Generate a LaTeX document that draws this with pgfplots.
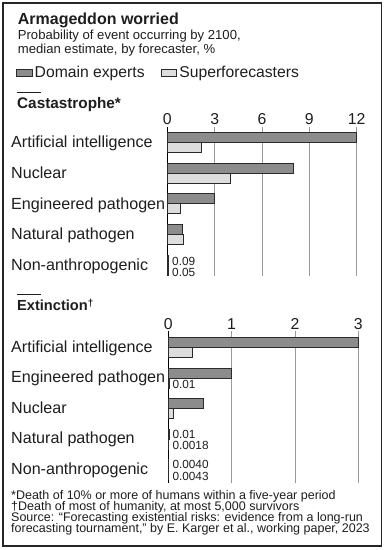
\documentclass[border=0pt]{standalone}
\usepackage{fontspec}
\setmainfont{Liberation Sans}
\usepackage{pgfplots}
\pgfplotsset{compat=1.18}
\definecolor{dark}{HTML}{8C8C8C}
\definecolor{light}{HTML}{DDDDDD}
\definecolor{edge}{HTML}{2B2B2B}
\definecolor{gridc}{HTML}{9A9A9A}
\definecolor{txt}{HTML}{1E1E1E}
\newcommand{\fs}[1]{\fontsize{#1bp}{#1bp}\selectfont}
\pgfplotsset{
 riskaxis/.style={
   scale only axis, anchor=south west, xbar, bar width=10bp,
   axis line style={draw=none}, major tick length=0pt, tick style={draw=none},
   xmajorgrids, major grid style={gridc, line width=0.8bp},
   extra x ticks={0}, extra x tick style={grid=major, major grid style={black, line width=1.3bp}},
   xticklabel pos=right,
   xticklabel style={anchor=south, inner sep=0pt, yshift=1.5bp, font=\fs{15.8}, text=txt},
   yticklabel style={anchor=base west, inner sep=0pt, font=\fs{16.1}, text=txt},
   /pgf/number format/assume math mode=true,
   clip=false,
 },
 swatch/.style={legend image code/.code={\draw[##1] (0bp,-3.5bp) rectangle (15.5bp,3.5bp);}},
 dom/.style={fill=dark, draw=edge, line width=0.7bp, bar shift=5bp, swatch},
 sup/.style={fill=light, draw=edge, line width=0.7bp, bar shift=-5bp, swatch},
}
\begin{document}
\begin{tikzpicture}
\useasboundingbox (0,0) rectangle (385bp,-550bp);
\fill[white] (0,0) rectangle (385bp,-550bp);
\draw[line width=1.2bp, black!85] (3bp,-3bp) rectangle (381.5bp,-546bp);
% titles
\node[anchor=base west, inner sep=0pt, text=txt, font=\fs{16}\bfseries] at (17.7bp,-24bp) {Armageddon worried};
\node[anchor=base west, inner sep=0pt, text=txt, font=\fs{13.1}] at (17.7bp,-39bp) {Probability of event occurring by 2100,};
\node[anchor=base west, inner sep=0pt, text=txt, font=\fs{13.1}] at (17.7bp,-53.3bp) {median estimate, by forecaster, \%};
% headings
\draw[line width=1bp, txt] (16.7bp,-92.5bp) -- (41bp,-92.5bp);
\node[anchor=base west, inner sep=0pt, text=txt, font=\fs{15.3}\bfseries] at (17bp,-108.3bp) {Castastrophe*};
\draw[line width=1bp, txt] (16.7bp,-294bp) -- (41bp,-294bp);
\node[anchor=base west, inner sep=0pt, text=txt, font=\fs{14.6}\bfseries] at (17bp,-310bp) {Extinction\raisebox{4bp}{\fs{10}†}};

\begin{axis}[riskaxis,
  at={(167.3bp,-275.7bp)}, width=189.4bp, height=149.2bp,
  xmin=0, xmax=12, ymin=-4.345, ymax=0.515,
  xtick={3,6,9,12},
  ytick={-4,-3,-2,-1,0},
  yticklabels={Non-anthropogenic, Natural pathogen, Engineered pathogen, Nuclear, Artificial intelligence},
  yticklabel style={xshift=-156.3bp, yshift=-5.5bp},
  legend columns=2,
  legend style={at={(-0.7988,1.36)}, anchor=west, draw=none, fill=none, inner sep=0pt, outer sep=0pt,
    font=\fs{15.7}, text=txt, nodes={inner sep=0pt},
    /tikz/every odd column/.append style={column sep=2.5bp},
    /tikz/every even column/.append style={column sep=16bp}},
]
\addplot[dom] coordinates {(12,0) (8,-1) (3,-2) (0.93,-3) (0.09,-4)};
\addlegendentry{Domain experts}
\addplot[sup] coordinates {(2.13,0) (4,-1) (0.8,-2) (1.04,-3) (0.05,-4)};
\addlegendentry{Superforecasters}
\end{axis}

\begin{axis}[riskaxis,
  at={(168.3bp,-482.5bp)}, width=190bp, height=151.5bp,
  xmin=0, xmax=3, ymin=-4.434, ymax=0.549,
  xtick={1,2,3},
  ytick={-4,-3,-2,-1,0},
  yticklabels={Non-anthropogenic, Natural pathogen, Nuclear, Engineered pathogen, Artificial intelligence},
  yticklabel style={xshift=-157.3bp, yshift=-4.7bp},
]
\addplot[dom] coordinates {(3,0) (1,-1) (0.55,-2) (0.01,-3) (0.0040,-4)};
\addplot[sup] coordinates {(0.38,0) (0.01,-1) (0.074,-2) (0.0018,-3) (0.0043,-4)};
\end{axis}

% value labels for tiny values
\begin{scope}[every node/.style={anchor=base west, inner sep=0pt, text=txt, font=\fs{11.8}}]
\node at (172bp,-265bp) {0.09};
\node at (172bp,-276bp) {0.05};
\node at (172.3bp,-388.5bp) {0.01};
\node at (172.3bp,-438bp) {0.01};
\node at (172.3bp,-449.3bp) {0.0018};
\node at (172.3bp,-468.7bp) {0.0040};
\node at (172.3bp,-480bp) {0.0043};
\end{scope}

% footnotes
\begin{scope}[every node/.style={anchor=base west, inner sep=0pt, text=txt, font=\fs{12.5}}]
\node at (11bp,-499.5bp) {*Death of 10\% or more of humans within a five-year period};
\node at (11bp,-510.5bp) {†Death of most of humanity, at most 5,000 survivors};
\node at (11bp,-521.5bp) {Source: “Forecasting existential risks: evidence from a long-run};
\node at (11bp,-532.5bp) {forecasting tournament,” by E. Karger et al., working paper, 2023};
\end{scope}
\end{tikzpicture}
\end{document}
